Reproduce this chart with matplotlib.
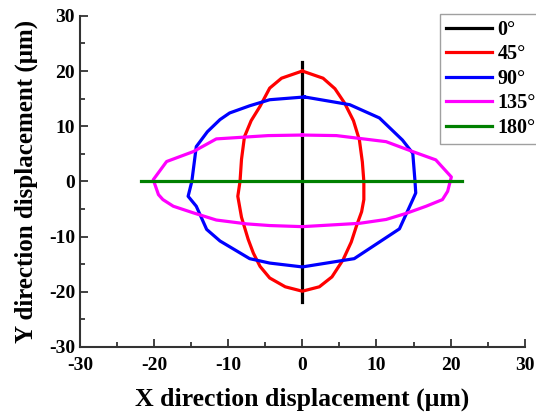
import matplotlib.pyplot as plt

plt.rcParams['font.family'] = 'Liberation Serif'
plt.rcParams['font.weight'] = 'bold'
plt.rcParams['axes.unicode_minus'] = False

# 0 deg: vertical line
x0 = [0, 0]
y0 = [-21.9, 21.7]

# 45 deg
x45 = [0, -2.8, -4.4, -5.7, -6.9, -7.8, -8.2, -8.4, -8.7, -8.2, -7.3, -6.6, -5.7, -4.4, -2.3, 0,
       2.3, 4.0, 5.5, 6.6, 7.3, 8.0, 8.3, 8.3, 8.1, 7.7, 6.9, 5.7, 4.4, 2.8, 0]
y45 = [20.0, 18.7, 16.9, 13.6, 11.0, 8.1, 4.0, 0, -2.7, -6.5, -10.5, -13.0, -15.4, -17.5, -19.1, -19.9,
       -19.1, -17.3, -14.2, -11.0, -8.1, -5.5, -3.3, 0, 3.5, 7.5, 11.0, 14.2, 16.8, 18.7, 20.0]

# 90 deg
x90 = [0.3, -4.4, -7.1, -9.8, -11.1, -12.8, -14.3, -14.9, -15.4, -14.3, -12.9, -11.1, -7.1, -4.4, 0,
       7.0, 13.1, 14.9, 15.3, 15.2, 14.9, 13.5, 10.4, 6.4, 0.3]
y90 = [15.3, 14.8, 13.7, 12.4, 11.2, 9.0, 6.3, 0, -2.7, -4.5, -8.7, -10.8, -14.0, -14.8, -15.5,
       -14.0, -8.6, -3.3, -2.1, 0, 5.1, 7.5, 11.5, 13.9, 15.3]

# 135 deg
x135 = [0, -4.6, -11.6, -14.7, -18.3, -20.1, -19.4, -18.8, -17.4, -14.7, -11.6, -7.5, -4.4, 0,
        7.7, 11.3, 14.0, 16.7, 18.9, 19.6, 20.1, 18.0, 14.9, 11.3, 4.6, 0]
y135 = [8.4, 8.3, 7.7, 5.4, 3.6, 0.3, -2.4, -3.3, -4.5, -5.7, -7.0, -7.7, -8.0, -8.2,
        -7.6, -6.9, -5.8, -4.5, -3.3, -1.8, 0.8, 3.9, 5.4, 7.2, 8.3, 8.4]

# 180 deg: horizontal line
x180 = [-21.8, 21.6]
y180 = [0, 0]

labels = ['0°', '45°', '90°', '135°', '180°']
colors = ['black', 'red', 'blue', 'magenta', 'green']

fig = plt.figure(figsize=(5.36, 4.17), dpi=100)
ax = fig.add_axes([0.149, 0.168, 0.830, 0.794])

series = [(x0, y0), (x45, y45), (x90, y90), (x135, y135), (x180, y180)]
for (xs, ys), lab, c in zip(series, labels, colors):
    ax.plot(xs, ys, color=c, lw=2.3, label=lab)

ax.set_xlim(-30, 30)
ax.set_ylim(-30, 30)
ax.set_xticks(range(-30, 31, 10))
ax.set_yticks(range(-30, 31, 10))
ax.set_xticks(range(-25, 30, 10), minor=True)
ax.set_yticks(range(-25, 30, 10), minor=True)
ax.tick_params(which='both', direction='in', color='#333333', width=1.3, labelsize=14)
ax.tick_params(which='major', length=6)
ax.tick_params(which='minor', length=3.5)
ax.tick_params(axis='x', pad=7)
for s in ['top', 'right']:
    ax.spines[s].set_visible(False)
for s in ['left', 'bottom']:
    ax.spines[s].set_color('#333333')
    ax.spines[s].set_linewidth(1.5)

ax.set_xlabel('X direction displacement (μm)', fontsize=18.5, fontweight='bold', labelpad=10)
ax.set_ylabel('Y direction displacement (μm)', fontsize=18, fontweight='bold', labelpad=8)

leg = ax.legend(loc='upper left', bbox_to_anchor=(440 / 536, 1 - 14 / 417),
                bbox_transform=fig.transFigure, fontsize=14.5, fancybox=False,
                edgecolor='#888888', handlelength=2.3, handletextpad=0.25,
                labelspacing=0.22, borderpad=0.3, borderaxespad=0)
leg.get_frame().set_linewidth(1.0)

fig.savefig('out.png', dpi=100)
